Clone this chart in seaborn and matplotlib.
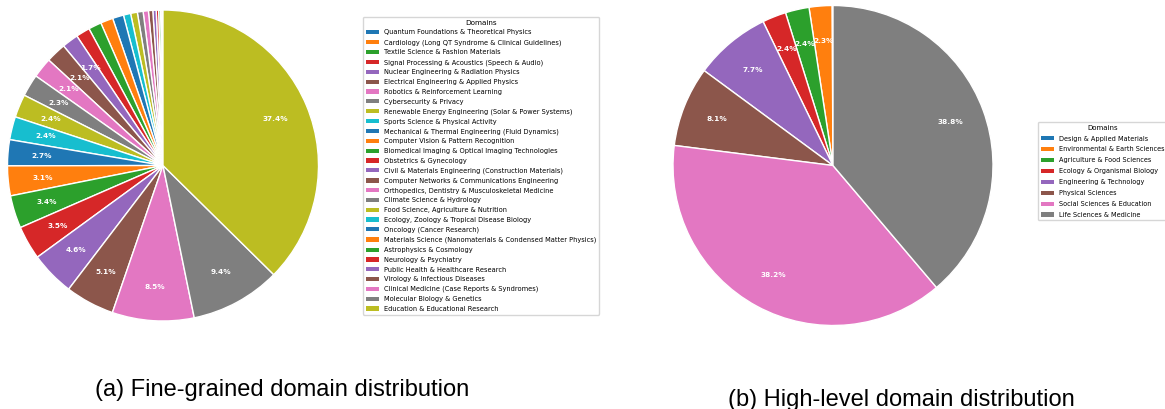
import matplotlib
matplotlib.use("Agg")
import matplotlib.pyplot as plt
import seaborn as sns

# fine-grained domains (legend order, ascending share in %)
fine_domains = [
    "Quantum Foundations & Theoretical Physics",
    "Cardiology (Long QT Syndrome & Clinical Guidelines)",
    "Textile Science & Fashion Materials",
    "Signal Processing & Acoustics (Speech & Audio)",
    "Nuclear Engineering & Radiation Physics",
    "Electrical Engineering & Applied Physics",
    "Robotics & Reinforcement Learning",
    "Cybersecurity & Privacy",
    "Renewable Energy Engineering (Solar & Power Systems)",
    "Sports Science & Physical Activity",
    "Mechanical & Thermal Engineering (Fluid Dynamics)",
    "Computer Vision & Pattern Recognition",
    "Biomedical Imaging & Optical Imaging Technologies",
    "Obstetrics & Gynecology",
    "Civil & Materials Engineering (Construction Materials)",
    "Computer Networks & Communications Engineering",
    "Orthopedics, Dentistry & Musculoskeletal Medicine",
    "Climate Science & Hydrology",
    "Food Science, Agriculture & Nutrition",
    "Ecology, Zoology & Tropical Disease Biology",
    "Oncology (Cancer Research)",
    "Materials Science (Nanomaterials & Condensed Matter Physics)",
    "Astrophysics & Cosmology",
    "Neurology & Psychiatry",
    "Public Health & Healthcare Research",
    "Virology & Infectious Diseases",
    "Clinical Medicine (Case Reports & Syndromes)",
    "Molecular Biology & Genetics",
    "Education & Educational Research",
]
fine_share = [0.1, 0.15, 0.2, 0.25, 0.35, 0.45, 0.55, 0.6, 0.7, 0.75,
              1.15, 1.3, 1.35, 1.45, 1.7, 2.1, 2.1, 2.3, 2.4, 2.4,
              2.7, 3.1, 3.4, 3.5, 4.6, 5.1, 8.5, 9.4, 37.4]

# high-level domains
high_domains = [
    "Design & Applied Materials",
    "Environmental & Earth Sciences",
    "Agriculture & Food Sciences",
    "Ecology & Organismal Biology",
    "Engineering & Technology",
    "Physical Sciences",
    "Social Sciences & Education",
    "Life Sciences & Medicine",
]
high_share = [0.1, 2.3, 2.4, 2.4, 7.7, 8.1, 38.2, 38.8]

sns.set_style("white")
plt.rcParams['font.family'] = ['DejaVu Sans']
plt.rcParams['text.color'] = 'black'

palette = sns.color_palette("tab10")

fig = plt.figure(figsize=(11.65, 4.09), dpi=100)


def draw_pie(ax, values, threshold):
    colors = [palette[i % 10] for i in range(len(values))]
    wedges, texts, autotexts = ax.pie(
        values, colors=colors, startangle=90, counterclock=True,
        autopct=lambda p: f"{p:.1f}%" if p > threshold else "",
        pctdistance=0.78,
        wedgeprops=dict(edgecolor="white", linewidth=1.0),
        textprops=dict(color="white", fontsize=5.3, fontweight="bold"),
    )
    ax.set_xlim(-1, 1)
    ax.set_ylim(-1, 1)
    ax.set_aspect("equal")
    return wedges


def legend_handles(n):
    # plain coloured boxes for the legend (no white wedge edge)
    return [plt.Rectangle((0, 0), 1, 1, facecolor=palette[i % 10],
                          edgecolor="none") for i in range(n)]


# (a) fine-grained
ax1 = fig.add_axes([7.5 / 1165, 1 - 321 / 409, 311 / 1165, 311 / 409])
draw_pie(ax1, fine_share, 1.5)
fig.legend(legend_handles(len(fine_domains)), fine_domains, title="Domains",
           loc="upper left", bbox_to_anchor=(363 / 1165, 1 - 17 / 409),
           fontsize=4.8, title_fontsize=5.2, labelspacing=0.56,
           handleheight=0.6, borderaxespad=0.0)

# (b) high-level
ax2 = fig.add_axes([673 / 1165, 1 - 326 / 409, 320 / 1165, 321 / 409])
draw_pie(ax2, high_share, 2.0)
fig.legend(legend_handles(len(high_domains)), high_domains, title="Domains",
           loc="upper left", bbox_to_anchor=(1038 / 1165, 1 - 122 / 409),
           fontsize=4.7, title_fontsize=5.0, labelspacing=0.75,
           handleheight=0.6, borderaxespad=0.0)

# captions
fig.text(282 / 1165, 1 - 390 / 409, "(a) Fine-grained domain distribution",
         ha="center", va="center", fontsize=17, color="black",
         family="Liberation Sans")
fig.text(901 / 1165, 1 - 400 / 409, "(b) High-level domain distribution",
         ha="center", va="center", fontsize=17, color="black",
         family="Liberation Sans")

fig.savefig("out.png", dpi=100)
